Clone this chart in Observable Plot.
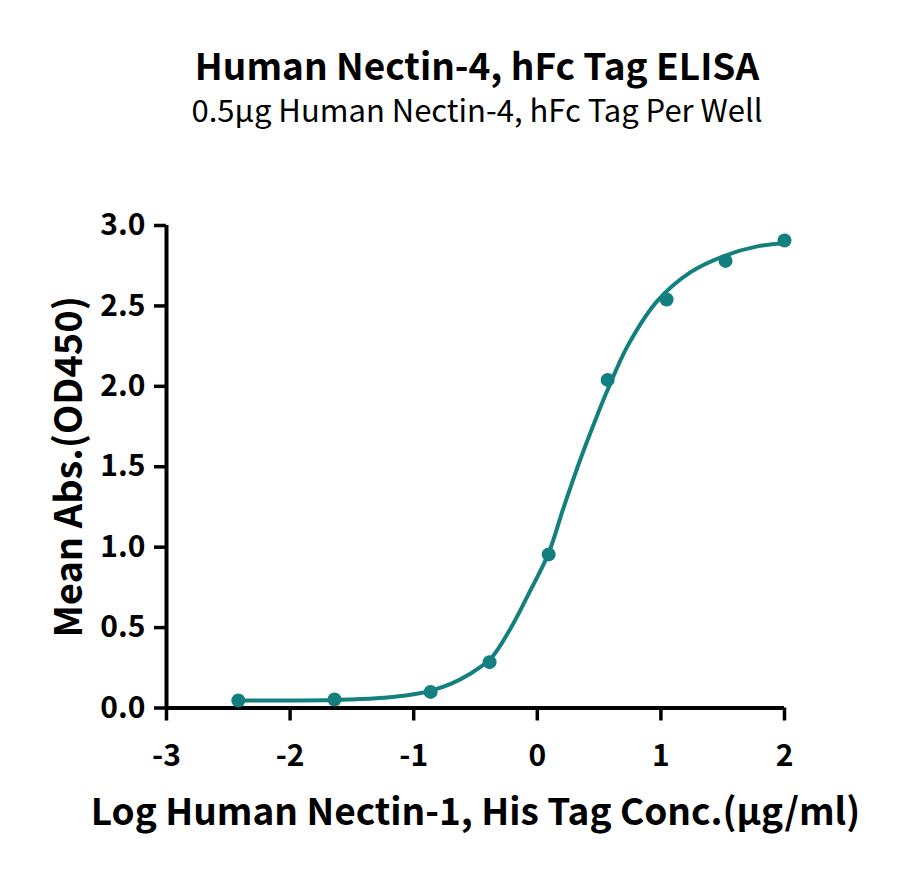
<!DOCTYPE html>
<html>
<head>
<meta charset="utf-8">
<script src="https://cdn.jsdelivr.net/npm/d3@7"></script>
<script src="https://cdn.jsdelivr.net/npm/@observablehq/plot@0.6"></script>
<style>
  html, body { margin: 0; padding: 0; background: #fff; }
  body { width: 900px; height: 870px; font-family: "Noto Sans CJK SC", "Noto Sans", sans-serif; }
  #header { position: relative; height: 150px; width: 900px; }
  #title { position: absolute; top: 45px; left: 54px; width: 846px; text-align: center; font-size: 37px; font-weight: bold; line-height: 38px; height: 38px; color: #000; }
  #subtitle { position: absolute; top: 92px; left: 54px; width: 846px; text-align: center; font-size: 31px; font-weight: normal; line-height: 34px; height: 34px; color: #000; }
  #title span, #subtitle span { display: inline-block; height: 100%; }
  #chart svg { display: block; }
</style>
</head>
<body>
<div id="header">
  <div id="title"><span>Human Nectin-4, hFc Tag ELISA</span></div>
  <div id="subtitle"><span>0.5μg Human Nectin-4, hFc Tag Per Well</span></div>
</div>
<div id="chart"></div>
<script>
// Measured points (log concentration, mean OD450)
const logConc = [-2.419, -1.641, -0.863, -0.386, 0.092, 0.569, 1.046, 1.523, 2.0];
const meanAbs = [0.047, 0.053, 0.10, 0.285, 0.955, 2.04, 2.54, 2.78, 2.907];

// Fitted curve
const curveX = [-2.42, -2.0, -1.64, -1.3, -1.0, -0.86, -0.7, -0.55, -0.38, -0.22, -0.07, 0.09, 0.21, 0.35, 0.49, 0.57, 0.73, 0.97, 1.24, 1.51, 1.78, 2.0];
const curveY = [0.046, 0.047, 0.05, 0.06, 0.085, 0.108, 0.15, 0.21, 0.305, 0.49, 0.71, 0.96, 1.24, 1.55, 1.83, 1.98, 2.25, 2.53, 2.71, 2.81, 2.87, 2.89];

const xTicks = [-3, -2, -1, 0, 1, 2];
const yTicks = [0, 0.5, 1.0, 1.5, 2.0, 2.5, 3.0];

const xLabel = "Log Human Nectin-1, His Tag Conc.(μg/ml)";
const yLabel = "Mean Abs.(OD450)";

const points = logConc.map((x, i) => ({x, y: meanAbs[i]}));
const curve = curveX.map((x, i) => ({x, y: curveY[i]}));

const teal = "#13807f";

const chart = Plot.plot({
  width: 900,
  height: 720,
  marginLeft: 166,
  marginRight: 116,
  marginTop: 75,
  marginBottom: 162.5,
  style: {fontFamily: "'Noto Sans CJK SC', 'Noto Sans', sans-serif", background: "#fff", color: "#000"},
  x: {domain: [-3, 2]},
  y: {domain: [0, 3]},
  marks: [
    Plot.axisX({ticks: xTicks, tickSize: 13, tickPadding: 24, tickFormat: d => String(d), fontSize: 30, fontWeight: "bold", strokeWidth: 3.5, label: null}),
    Plot.axisY({ticks: yTicks, tickSize: 12, tickPadding: 9, tickFormat: d3.format(".1f"), fontSize: 30, fontWeight: "bold", strokeWidth: 3.5, label: null}),
    Plot.ruleY([0], {stroke: "#000", strokeWidth: 4}),
    Plot.ruleX([-3], {stroke: "#000", strokeWidth: 4}),
    Plot.line(curve, {x: "x", y: "y", stroke: teal, strokeWidth: 4, curve: "catmull-rom"}),
    Plot.dot(points, {x: "x", y: "y", r: 7, fill: teal, stroke: "none"}),
    Plot.text([xLabel], {frameAnchor: "bottom", dy: 105, fontSize: 37, fontWeight: "bold", fill: "#000", textAnchor: "middle", lineAnchor: "middle"}),
    Plot.text([yLabel], {frameAnchor: "left", dx: -97, rotate: -90, fontSize: 38, fontWeight: "bold", fill: "#000", textAnchor: "middle", lineAnchor: "middle"})
  ]
});
document.getElementById("chart").appendChild(chart);
</script>
</body>
</html>
